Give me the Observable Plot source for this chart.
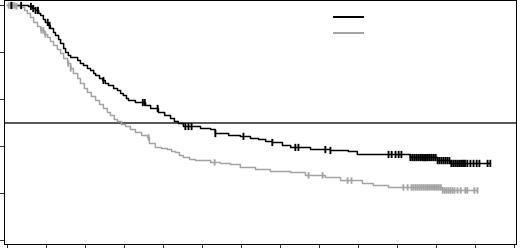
<!DOCTYPE html>
<html>
<head>
<meta charset="utf-8">
<script src="https://cdn.jsdelivr.net/npm/d3@7"></script>
<script src="https://cdn.jsdelivr.net/npm/@observablehq/plot@0.6"></script>
<style>
  html, body { margin: 0; padding: 0; background: #fff; }
  #wrap { position: relative; width: 520px; height: 249px; font-family: "Liberation Sans", Arial, sans-serif; }
  #legend { position: absolute; left: 333px; top: 16px; }
  .sw { display: block; width: 31px; height: 2px; margin-bottom: 14px; }
</style>
</head>
<body>
<div id="wrap"><div id="chart"></div><div id="legend"></div></div>
<script>
// ---- data (time in axis units, survival proportion) ----
const seriesNames = ["Group A", "Group B"];
const seriesColors = ["#000000", "#a3a3a3"];

const blackTime = [0, 0.54, 0.64, 0.72, 0.80, 0.85, 0.92, 0.97, 1.05, 1.10, 1.18, 1.23, 1.31, 1.36, 1.44, 1.49, 1.56, 1.62, 1.80, 1.87, 1.95, 2.05, 2.13, 2.21, 2.26, 2.36, 2.44, 2.51, 2.59, 2.72, 2.82, 2.90, 2.97, 3.05, 3.10, 3.28, 3.54, 3.67, 3.87, 4.03, 4.18, 4.28, 4.38, 4.51, 4.95, 5.21, 5.33, 5.67, 5.97, 6.23, 6.44, 6.62, 6.79, 7.05, 7.26, 7.77, 8.28, 8.74, 8.97, 10.33, 11.03, 11.36, 12.38];
const blackSurv = [1.0, 0.996, 0.987, 0.979, 0.966, 0.957, 0.940, 0.928, 0.915, 0.902, 0.885, 0.872, 0.855, 0.838, 0.817, 0.800, 0.787, 0.779, 0.766, 0.753, 0.745, 0.732, 0.723, 0.711, 0.702, 0.689, 0.681, 0.668, 0.660, 0.647, 0.638, 0.626, 0.617, 0.604, 0.596, 0.587, 0.574, 0.562, 0.545, 0.532, 0.519, 0.506, 0.498, 0.485, 0.477, 0.472, 0.455, 0.447, 0.443, 0.434, 0.430, 0.421, 0.417, 0.404, 0.396, 0.387, 0.383, 0.379, 0.366, 0.353, 0.340, 0.328, 0.328];

const grayTime = [0, 0.21, 0.33, 0.44, 0.51, 0.59, 0.67, 0.77, 0.85, 0.95, 1.03, 1.10, 1.18, 1.28, 1.36, 1.44, 1.54, 1.62, 1.69, 1.80, 1.87, 1.97, 2.05, 2.15, 2.26, 2.36, 2.46, 2.56, 2.64, 2.74, 2.82, 2.92, 3.03, 3.15, 3.28, 3.44, 3.59, 3.64, 3.79, 3.95, 4.10, 4.21, 4.31, 4.41, 4.51, 4.67, 4.82, 5.21, 5.46, 5.72, 5.97, 6.36, 6.74, 7.26, 7.64, 8.15, 8.54, 9.10, 9.38, 9.77, 11.15, 12.05];
const graySurv = [1.0, 0.996, 0.991, 0.979, 0.966, 0.949, 0.928, 0.911, 0.894, 0.877, 0.864, 0.847, 0.830, 0.813, 0.796, 0.774, 0.753, 0.732, 0.711, 0.689, 0.668, 0.647, 0.630, 0.613, 0.596, 0.579, 0.562, 0.545, 0.532, 0.515, 0.506, 0.494, 0.485, 0.472, 0.460, 0.447, 0.438, 0.413, 0.396, 0.391, 0.387, 0.379, 0.374, 0.362, 0.353, 0.345, 0.340, 0.332, 0.328, 0.323, 0.311, 0.302, 0.294, 0.289, 0.277, 0.268, 0.255, 0.243, 0.234, 0.226, 0.213, 0.213];

const blackCensor = [0.10, 0.35, 0.60, 0.66, 0.72, 0.78, 1.03, 1.08, 2.46, 3.47, 3.52, 3.85, 4.56, 4.64, 4.72, 5.33, 6.05, 6.79, 7.38, 7.46, 8.15, 8.28,
  9.77, 9.85, 9.95, 10.03, 10.10, 10.33, 10.38, 10.43, 10.48, 10.53, 10.58, 10.63, 10.68, 10.73, 10.78, 10.83, 10.88, 10.93, 10.98, 11.03,
  11.08, 11.13, 11.18, 11.23, 11.28, 11.33, 11.38, 11.43, 11.48, 11.53, 11.58, 11.63, 11.68, 11.73, 11.79, 11.87, 11.95, 12.03, 12.10, 12.31, 12.38];
const grayCensor = [0.03, 0.08, 0.13, 0.18, 0.23, 0.87, 0.92, 0.97, 1.56, 1.62, 3.62, 5.31, 7.72, 8.08, 8.72, 8.82,
  10.15, 10.26, 10.36, 10.41, 10.46, 10.51, 10.56, 10.61, 10.66, 10.71, 10.76, 10.81, 10.86, 10.91, 10.96, 11.01, 11.06, 11.11,
  11.16, 11.21, 11.26, 11.31, 11.36, 11.41, 11.46, 11.54, 11.62, 11.74, 11.79, 11.97, 12.05];

const xTicks = [0, 1, 2, 3, 4, 5, 6, 7, 8, 9, 10, 11, 12, 13];
const yTicks = [0, 0.2, 0.4, 0.6, 0.8, 1.0];
const medianLevel = [0.5];

// ---- build tables ----
const curveRows = (times, surv, name) => times.map((t, i) => ({t, s: surv[i], name}));
const stepAt = (times, surv, t) => { let v = surv[0]; for (let i = 0; i < times.length; i++) if (times[i] <= t) v = surv[i]; return v; };
const censorRows = (cens, times, surv, name) => cens.map(t => ({t, s: stepAt(times, surv, t), name}));

const lines = [...curveRows(blackTime, blackSurv, seriesNames[0]), ...curveRows(grayTime, graySurv, seriesNames[1])];
const censBlack = censorRows(blackCensor, blackTime, blackSurv, seriesNames[0]);
const censGray = censorRows(grayCensor, grayTime, graySurv, seriesNames[1]);

const vbar = { draw(ctx, size) { const h = Math.sqrt(size / Math.PI); ctx.moveTo(0, -h); ctx.lineTo(0, h); } };

const chart = Plot.plot({
  width: 520,
  height: 249,
  marginLeft: 4,
  marginRight: 4,
  marginTop: 0,
  marginBottom: 5,
  x: { domain: [-3 / 39, 13 + 2 / 39], axis: null },
  y: { domain: [-4 / 235, 1 + 5 / 235], axis: null },
  color: { domain: seriesNames, range: seriesColors },
  marks: [
    Plot.ruleY(medianLevel, { stroke: "#222", strokeWidth: 1.4 }),
    Plot.line(lines, { x: "t", y: "s", z: "name", stroke: "name", curve: "step-after", strokeWidth: 1.5 }),
    Plot.dot(censGray, { x: "t", y: "s", stroke: "name", symbol: vbar, r: 3.2, strokeWidth: 1.9 }),
    Plot.dot(censBlack, { x: "t", y: "s", stroke: "name", symbol: vbar, r: 3.6, strokeWidth: 1.9 }),
    Plot.axisX({ ticks: xTicks, tickSize: 4, fill: "none", label: null, stroke: "#333" }),
    Plot.axisY({ ticks: yTicks, tickSize: 4, fill: "none", label: null, stroke: "#333" }),
    Plot.frame({ stroke: "#000" })
  ]
});
document.getElementById("chart").appendChild(chart);

const legend = document.getElementById("legend");
seriesNames.forEach((n, i) => {
  const s = document.createElement("span");
  s.className = "sw";
  s.title = n;
  s.style.background = seriesColors[i];
  legend.appendChild(s);
});
</script>
</body>
</html>
